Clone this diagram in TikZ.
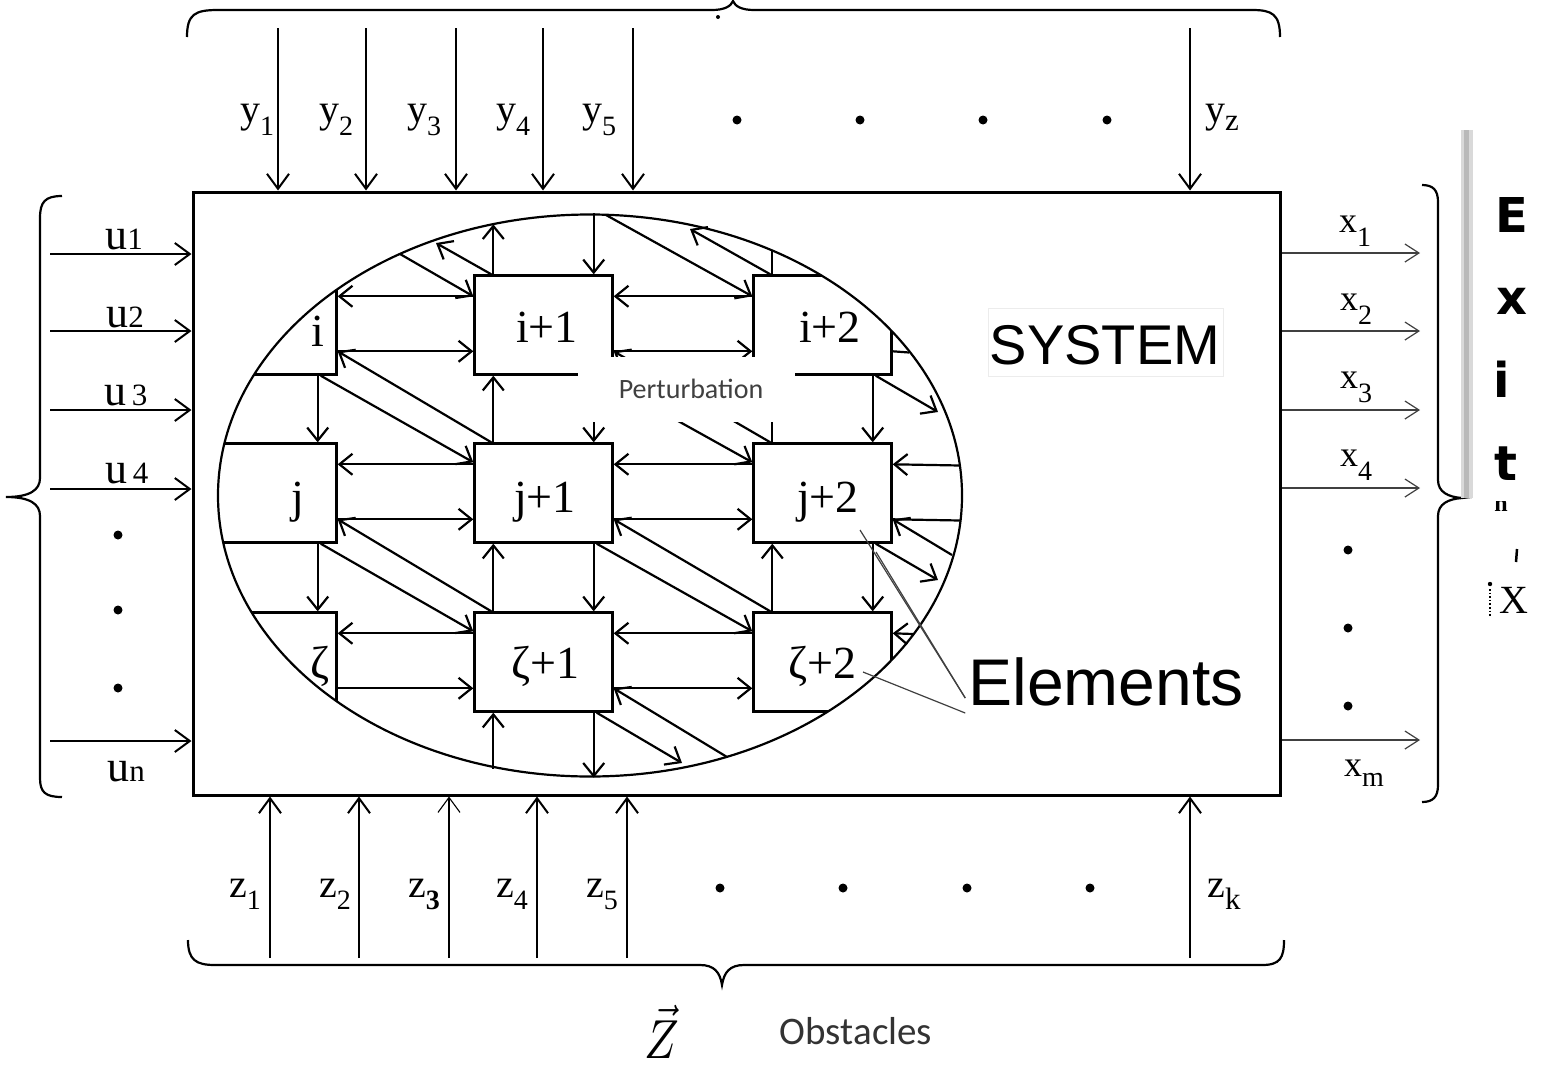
\documentclass[tikz,border=0pt]{standalone}
\usepackage{fontspec}
\setmainfont{Liberation Serif}
\newfontfamily\arialf{Liberation Sans}
\newfontfamily\calf{Carlito}
\newfontfamily\dejaf{DejaVu Sans}
\usetikzlibrary{arrows.meta,calc}
\newcommand\sv[3]{#1\raisebox{#3}{\fontsize{28}{28}\selectfont #2}}
\newcommand\svb[3]{#1\raisebox{#3}{\fontsize{31}{31}\selectfont #2}}
\begin{document}
\begin{tikzpicture}[x=1pt,y=-1pt,
  box/.style={draw,line width=2.4pt,minimum width=138pt,minimum height=99pt,inner sep=0pt},
  arr/.style={line width=2.2pt,-{Straight Barb[length=13pt,width=21pt,line width=2.2pt]}},
  ln/.style={line width=2.2pt},
  yarr/.style={line width=2pt,-{Straight Barb[length=15pt,width=22pt,line width=2pt]}},
  tarr/.style={line width=1.2pt,black!75,-{Straight Barb[length=14pt,width=18pt,line width=1.2pt]}},
  lab/.style={font=\fontsize{46}{46}\selectfont,inner sep=0pt,anchor=base},
  slab/.style={font=\fontsize{40}{40}\selectfont,inner sep=0pt,anchor=base},
  ulab/.style={font=\fontsize{44}{44}\selectfont,inner sep=0pt,anchor=base},
  thinl/.style={line width=1.2pt,black!75},
  dot/.style={radius=4.5pt}]
\useasboundingbox (0,0) rectangle (1546,1068);
\fill[white] (0,0) rectangle (1546,1068);

% system rectangle
\node[draw,line width=3pt,minimum width=1087pt,minimum height=603pt,inner sep=0pt] (sys) at (736.5,493.5) {};

% boxes clipped by ellipse
\begin{scope}
\clip (590,495.5) ellipse [x radius=372pt,y radius=281pt];
\node[box] (b00) at (267.5,325) {};
\node[box] (b01) at (543.5,325) {};
\node[box] (b02) at (822.5,325) {};
\node[box] (b10) at (267.5,493) {};
\node[box] (b11) at (543.5,493) {};
\node[box] (b12) at (822.5,493) {};
\node[box] (b20) at (267.5,662) {};
\node[box] (b21) at (543.5,662) {};
\node[box] (b22) at (822.5,662) {};
\end{scope}
\draw[line width=2.2pt] (590,495.5) ellipse [x radius=372pt,y radius=281pt];

% horizontal links
\foreach \r in {0,1,2}{
 \foreach \c/\d in {0/1,1/2}{
  \draw[arr] ($(b\r\d.north west)+(0,22)$) -- ($(b\r\c.north east)+(0,22)$);
  \draw[arr] ($(b\r\c.north east)+(0,77)$) -- ($(b\r\d.north west)+(0,77)$);
 }}
% vertical links
\foreach \c in {0,1,2}{
 \foreach \r/\s in {0/1,1/2}{
  \draw[arr] ($(b\r\c.south east)+(-20,0)$) -- ($(b\s\c.north east)+(-20,0)$);
 }}
\foreach \c in {1,2}{
 \foreach \r/\s in {0/1,1/2}{
  \draw[arr] ($(b\s\c.north west)+(20,0)$) -- ($(b\r\c.south west)+(20,0)$);
 }}
% diagonal links
\foreach \r/\s in {0/1,1/2}{
 \foreach \c/\d in {0/1,1/2}{
  \draw[arr] ($(b\r\c.south east)+(-17,0)$) -- ($(b\s\d.north west)+(0,20)$);
  \draw[arr] ($(b\s\d.north west)+(18,0)$) -- ($(b\r\c.north east)+(0,77)$);
 }}

% links to the ellipse boundary
\coordinate (fT1) at (400,254);
\coordinate (fT2) at (436,243);
\coordinate (fT5) at (606,215);
\coordinate (fT6) at (690,229);
\coordinate (fR1) at (938,412);
\coordinate (fR2) at (909,352.5);
\coordinate (fR3) at (960,465.5);
\coordinate (fR4) at (960,520.5);
\coordinate (fR5) at (952,555);
\coordinate (fR6) at (938,580);
\coordinate (fR7) at (913,634);
\coordinate (fB3) at (682,763);
\coordinate (fB4) at (727,757);
\draw[arr] (fT1) -- ($(b01.north west)+(0,22)$);
\draw[arr] ($(b01.north west)+(18,0)$) -- (fT2);
\draw[arr] ($(b01.north west)+(20,0)$) -- ($(b01.north west)+(20,-50)$);
\draw[arr] ($(b01.north east)+(-20,-61)$) -- ($(b01.north east)+(-20,0)$);
\draw[arr] (fT5) -- ($(b02.north west)+(0,22)$);
\draw[arr] ($(b02.north west)+(18,0)$) -- (fT6);
\draw[ln] ($(b02.north west)+(20,0)$) -- ($(b02.north west)+(20,-24)$);
\draw[arr] ($(b02.south east)+(-17,0)$) -- (fR1);
\draw[ln] ($(b02.north east)+(0,77)$) -- (fR2);
\draw[arr] (fR3) -- ($(b12.north east)+(0,22)$);
\draw[ln] ($(b12.north east)+(0,77)$) -- (fR4);
\draw[arr] (fR5) -- ($(b12.north east)+(0,77)$);
\draw[arr] ($(b12.south east)+(-17,0)$) -- (fR6);
\draw[arr] (fR7) -- ($(b22.north east)+(0,22)$);
\draw[arr] ($(b21.south west)+(20,56)$) -- ($(b21.south west)+(20,0)$);
\draw[arr] ($(b21.south east)+(-20,0)$) -- ($(b21.south east)+(-20,65)$);
\draw[arr] ($(b21.south east)+(-17,0)$) -- (fB3);
\draw[arr] (fB4) -- ($(b21.north east)+(0,77)$);

% box labels
\node[lab] (li)  at (318,346) {i};
\node[lab] (li1) at (547,342) {i+1};
\node[lab] (li2) at (830,342) {i+2};
\node[lab] (lj)  at (298,512) {j};
\node[lab] (lj1) at (545,512) {j+1};
\node[lab] (lj2) at (828,512) {j+2};
\node[lab] (lz)  at (320,678) {ζ};
\node[lab] (lz1) at (545,678) {ζ+1};
\node[lab] (lz2) at (822,678) {ζ+2};

% perturbation patch
\fill[white] (578,357) rectangle (795,422);
\node[font=\calf\fontsize{28}{28}\selectfont,text=black!75,inner sep=0pt,anchor=base] (pert) at (691,398) {Perturbation};

% SYSTEM label
\node[draw=gray!15,line width=1pt,minimum width=235pt,minimum height=68pt,inner sep=0pt] (sysbox) at (1105.5,342) {};
\node[font=\arialf\fontsize{56}{56}\selectfont,inner sep=0pt,anchor=base] (syst) at (1105,364) {SYSTEM};

% Elements
\node[font=\arialf\fontsize{66}{66}\selectfont,inner sep=0pt,anchor=base] (elem) at (1106,705) {Elements};
\draw[thinl] (860,530) -- ($(elem.base west)+(-3,-7)$);
\draw[thinl] (876,552) -- ($(elem.base west)+(-3,-7)$);
\draw[thinl] (863,672) -- ($(elem.base west)+(-3,8)$);

% top inputs y
\foreach \x/\n in {278/1,366/2,456/3,543/4,633/5,1190/z}{
  \coordinate (ytop\n) at (\x,28);
  \draw[yarr] (ytop\n) -- (ytop\n |- sys.north);
}
\node[slab] (ly1) at (257,122) {\sv{y}{1}{-0.33em}};
\node[slab] (ly2) at (336,122) {\sv{y}{2}{-0.33em}};
\node[slab] (ly3) at (424,122) {\sv{y}{3}{-0.33em}};
\node[slab] (ly4) at (513,122) {\sv{y}{4}{-0.33em}};
\node[slab] (ly5) at (599,122) {\sv{y}{5}{-0.33em}};
\node[slab] (lyz) at (1222,122) {\svb{y}{z}{-0.2em}};
\foreach \x in {737,860,983,1107}{\fill (\x,120) circle[dot];}

% bottom inputs z
\foreach \x/\n in {270/1,359/2,537/4,627/5,1190/k}{
  \coordinate (zb\n) at (\x,958);
  \draw[yarr] (zb\n) -- (zb\n |- sys.south);
}
\coordinate (zb3) at (449,958);
\draw[line width=1.1pt,-{Straight Barb[length=15pt,width=22pt,line width=1.1pt]}] (zb3) -- (zb3 |- sys.south);
\node[slab] (lz1b) at (245,897) {\sv{z}{1}{-0.3em}};
\node[slab] (lz2b) at (335,897) {\sv{z}{2}{-0.3em}};
\node[slab] (lz3b) at (424,897) {\sv{z}{\textbf{3}}{-0.3em}};
\node[slab] (lz4b) at (512,897) {\sv{z}{4}{-0.3em}};
\node[slab] (lz5b) at (602,897) {\sv{z}{5}{-0.3em}};
\node[slab] (lzkb) at (1224,897) {\svb{z}{k}{-0.3em}};
\foreach \x in {720,843,967,1090}{\fill (\x,888) circle[dot];}

% left inputs u
\foreach \y/\n in {254/1,331/2,410/3,489/4,741/n}{
  \coordinate (ul\n) at (50,\y);
  \draw[yarr] (ul\n) -- (ul\n -| sys.west);
}
\node[ulab] (lu1) at (124,249) {\svb{u}{1}{0em}};
\node[ulab] (lu2) at (125,327) {\svb{u}{2}{0em}};
\node[ulab] (lu3) at (126,405) {\svb{u}{\,3}{0em}};
\node[ulab] (lu4) at (127,483) {\svb{u}{\,4}{0em}};
\node[ulab] (lun) at (126,781) {\svb{u}{n}{0em}};
\foreach \y in {535,610,688}{\fill (118,\y) circle[dot];}

% right outputs x
\foreach \y/\n in {253/1,331/2,410/3,488/4,740/m}{
  \coordinate (xr\n) at (1420,\y);
  \draw[tarr] (xr\n -| sys.east) -- (xr\n);
}
\node[slab,font=\fontsize{36}{36}\selectfont] (lx1) at (1355,232) {\sv{x}{1}{-0.4em}};
\node[slab,font=\fontsize{36}{36}\selectfont] (lx2) at (1356,310) {\sv{x}{2}{-0.4em}};
\node[slab,font=\fontsize{36}{36}\selectfont] (lx3) at (1356,388) {\sv{x}{3}{-0.4em}};
\node[slab,font=\fontsize{36}{36}\selectfont] (lx4) at (1356,466) {\sv{x}{4}{-0.4em}};
\node[slab,font=\fontsize{36}{36}\selectfont] (lxm) at (1364,776) {\sv{x}{m}{-0.3em}};
\foreach \y in {550,628,706}{\fill (1348,\y) circle[dot];}

% braces
\draw[line width=2.2pt] (187,37) .. controls (187,14) and (195,10) .. (218,10) -- (712,10)
  .. controls (725,10) and (731,6) .. (733,1) .. controls (735,6) and (741,10) .. (754,10)
  -- (1252,10) .. controls (1272,10) and (1280,14) .. (1280,37);
\fill (718,17) circle[radius=2pt];
\draw[line width=2.2pt] (188,940) .. controls (188,960) and (196,965) .. (215,965) -- (700,965)
  .. controls (714,965) and (720,972) .. (722,985) .. controls (724,972) and (730,965) .. (744,965)
  -- (1262,965) .. controls (1280,965) and (1284,958) .. (1284,940);
\draw[line width=2.2pt] (62,196) .. controls (45,196) and (40,202) .. (40,218) -- (40,478)
  .. controls (40,490) and (30,497) .. (6,497) .. controls (30,497) and (40,504) .. (40,516)
  -- (40,778) .. controls (40,792) and (45,797) .. (62,797);
\draw[line width=2.2pt] (1422,185) .. controls (1433,185) and (1438,190) .. (1438,202) -- (1438,480)
  .. controls (1438,492) and (1448,497) .. (1462,498) .. controls (1448,499) and (1438,504) .. (1438,516)
  -- (1438,785) .. controls (1438,797) and (1433,802) .. (1422,802);

% bottom vector label
\node[inner sep=0pt,anchor=base] (zvec) at (662,1058) {\scalebox{4.6}[5.5]{$\vec{Z}$}};
\node[font=\calf\fontsize{39}{39}\selectfont,text=black!80,inner sep=0pt,anchor=base] (obst) at (856,1044) {Obstacles};

% Exit column
\node[font=\bfseries\fontsize{24}{24}\selectfont,inner sep=0pt,anchor=base] (resn) at (1501,511) {n};
\fill[white] (1476,480) rectangle (1535,501);
\fill[gray!30] (1461,130) rectangle (1473,498);
\fill[gray!55] (1464,130) rectangle (1469,498);
\node[font=\dejaf\bfseries\fontsize{48}{48}\selectfont,inner sep=0pt,anchor=base] (exE) at (1512,232) {E};
\node[font=\dejaf\bfseries\fontsize{48}{48}\selectfont,inner sep=0pt,anchor=base] (exx) at (1512,314) {x};
\node[font=\dejaf\bfseries\fontsize{48}{48}\selectfont,inner sep=0pt,anchor=base] (exi) at (1502,397) {i};
\node[font=\dejaf\bfseries\fontsize{48}{48}\selectfont,inner sep=0pt,anchor=base] (ext) at (1506,480) {t};
\draw[line width=2.5pt] (1517,549) -- (1516,562);
\node[font=\fontsize{40}{40}\selectfont,inner sep=0pt] (resx) at (1514,600) {X};
\fill (1490,584) circle[radius=2.2pt];
\draw[line width=1.6pt,dotted] (1490,589) -- (1490,616);
\end{tikzpicture}
\end{document}
